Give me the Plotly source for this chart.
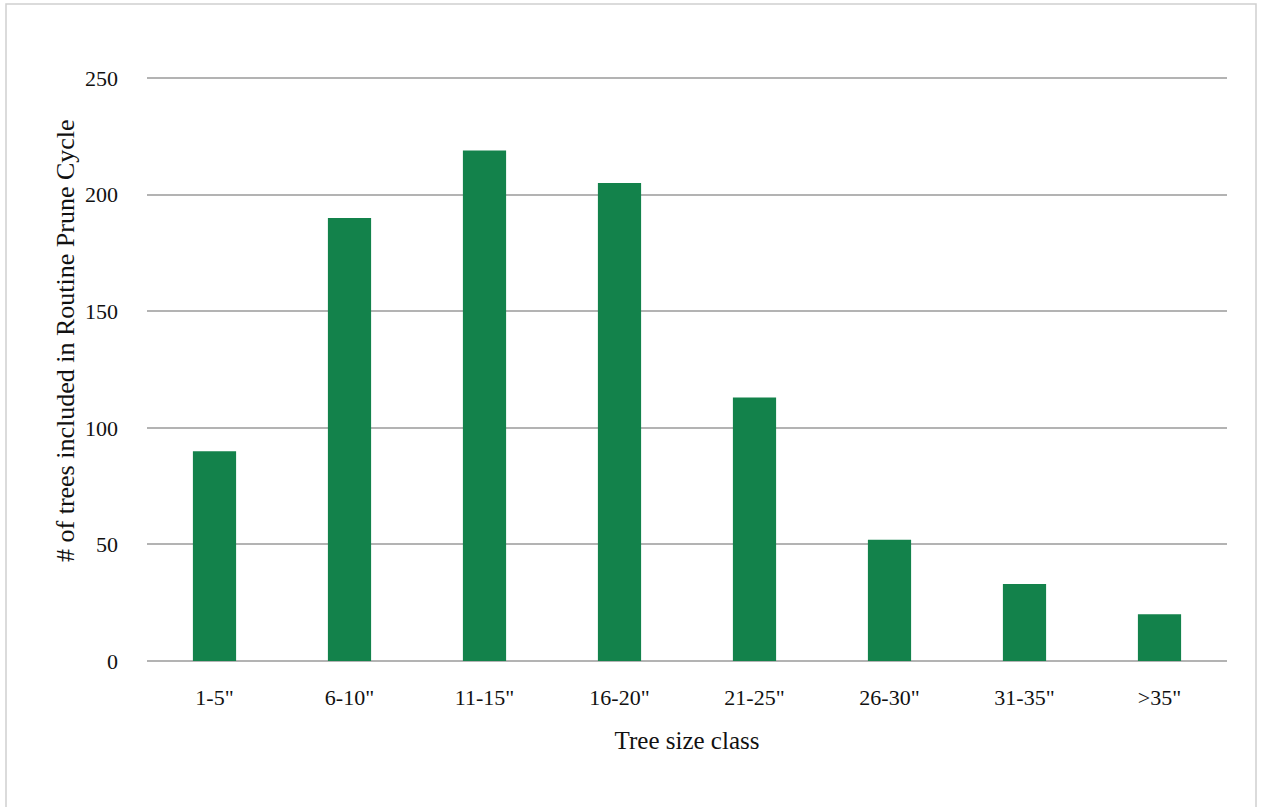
import plotly.graph_objects as go

# Tree counts per diameter size class
size_classes = ['1-5"', '6-10"', '11-15"', '16-20"', '21-25"', '26-30"', '31-35"', '>35"']
tree_counts = [90, 190, 219, 205, 113, 52, 33, 20]
y_ticks = [0, 50, 100, 150, 200, 250]

W, H = 1262, 807
ML, MR, MT, MB = 147, 35, 77, 146
FONT = "Liberation Serif"
TXT = "#111111"

fig = go.Figure(
    go.Bar(
        x=size_classes,
        y=tree_counts,
        marker=dict(color="#13824B", line=dict(width=0)),
        hoverinfo="x+y",
    )
)

pw = W - ML - MR
ph = H - MT - MB

def px_x(x):
    return (x - ML) / pw

def px_y(y):
    return (H - MB - y) / ph

fig.update_layout(
    width=W,
    height=H,
    margin=dict(l=ML, r=MR, t=MT, b=MB),
    paper_bgcolor="white",
    plot_bgcolor="white",
    bargap=0.68,
    showlegend=False,
    font=dict(family=FONT, size=22, color=TXT),
    xaxis=dict(
        showgrid=False,
        showline=False,
        ticks="",
        ticklabelstandoff=21,
        tickfont=dict(family=FONT, size=22, color=TXT),
        title=dict(text="Tree size class", font=dict(family=FONT, size=25, color=TXT), standoff=22),
    ),
    yaxis=dict(
        range=[0, 250.5],
        tickvals=y_ticks,
        showgrid=True,
        gridcolor="#b3b3b3",
        gridwidth=1.5,
        zeroline=True,
        zerolinecolor="#b3b3b3",
        zerolinewidth=1.5,
        showline=False,
        ticks="",
        ticklabelstandoff=28,
        tickfont=dict(family=FONT, size=22, color=TXT),
    ),
    shapes=[
        dict(
            type="rect", xref="paper", yref="paper",
            x0=px_x(6), x1=px_x(1256), y0=px_y(830), y1=px_y(4),
            line=dict(color="#d0d0d0", width=1.5), fillcolor="rgba(0,0,0,0)",
            layer="below",
        )
    ],
    annotations=[
        dict(
            text="# of trees included in Routine Prune Cycle",
            xref="paper", yref="paper",
            x=px_x(65), y=px_y(341),
            xanchor="center", yanchor="middle",
            textangle=-90, showarrow=False,
            font=dict(family=FONT, size=26, color=TXT),
        )
    ],
)

fig.write_html("out.html")
